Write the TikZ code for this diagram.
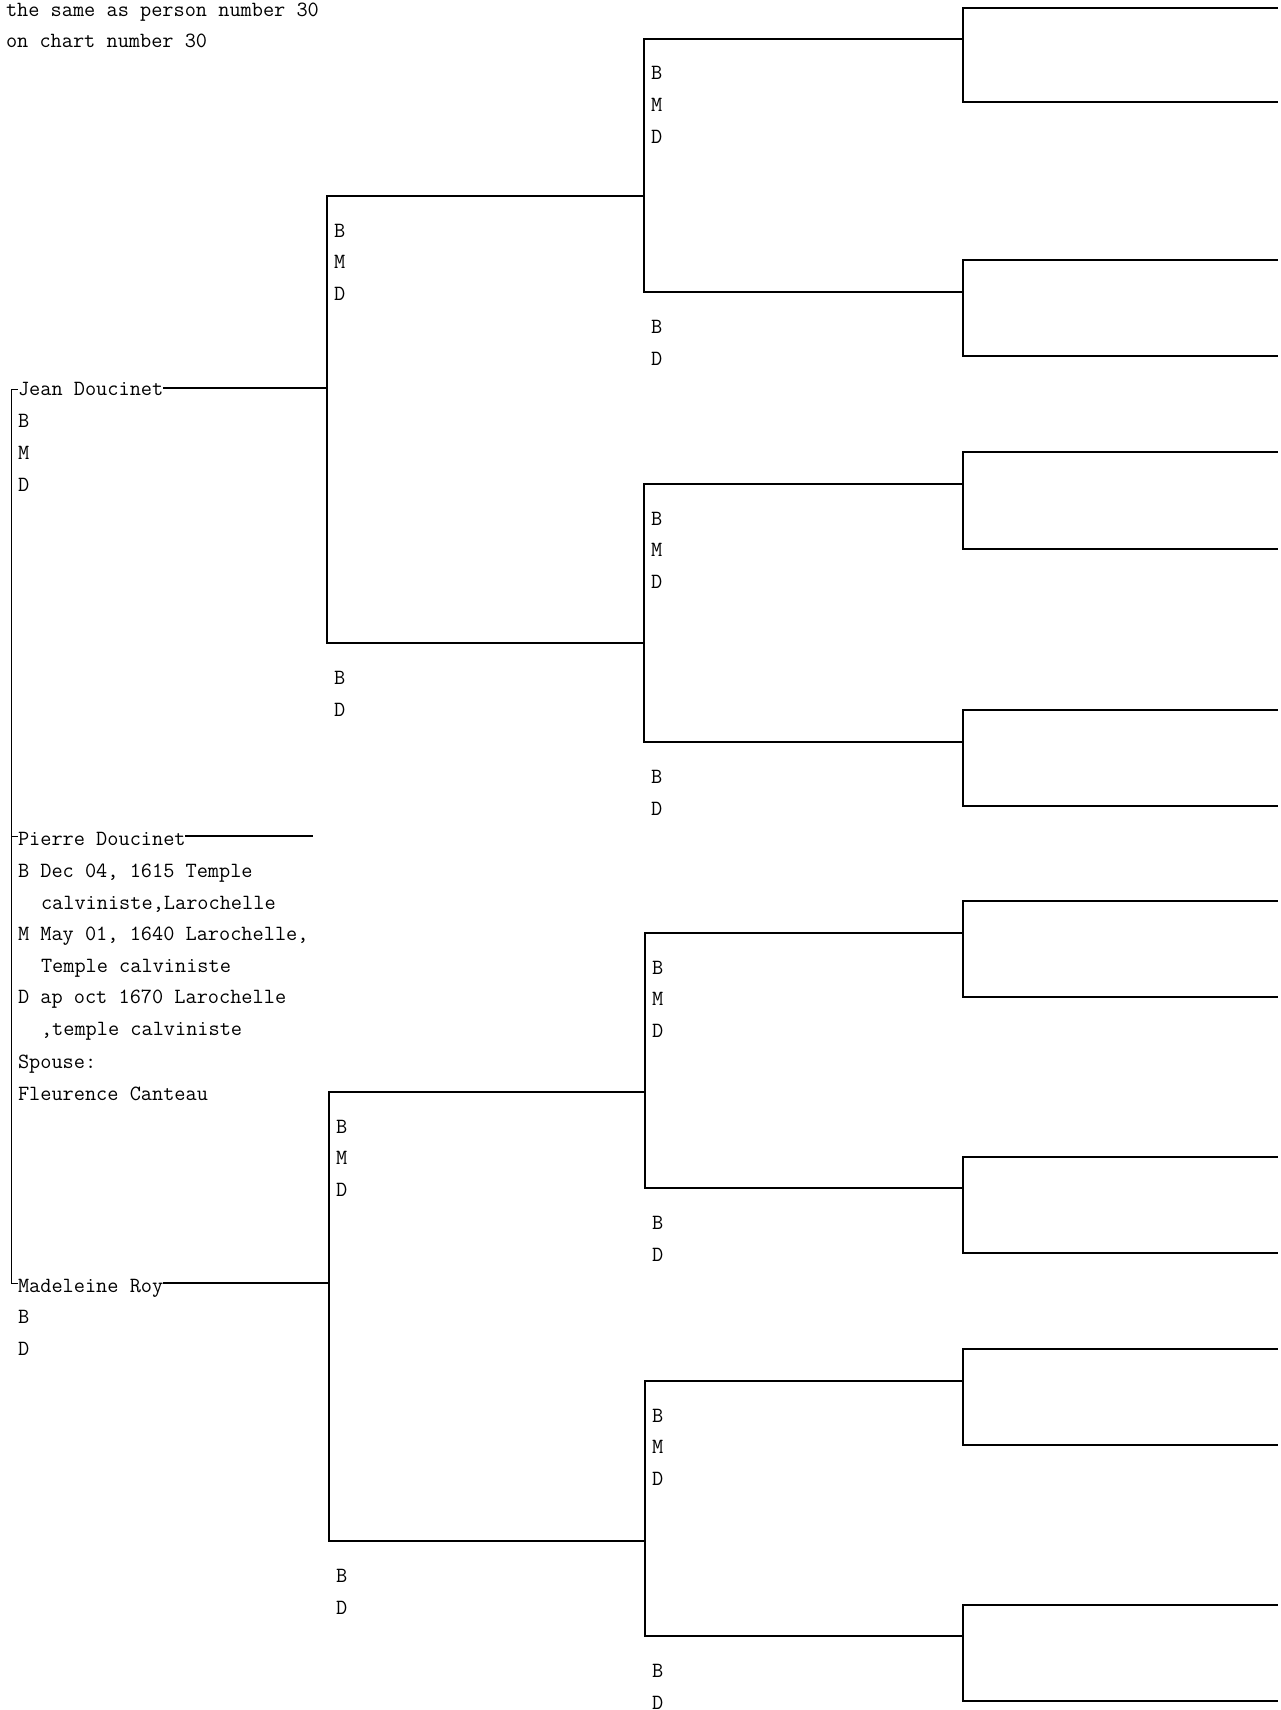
\documentclass[tikz,border=0pt]{standalone}
\begin{document}
\begin{tikzpicture}[x=1pt,y=-1pt,
  lbl/.style={anchor=base west, inner sep=0pt, outer sep=0pt, font=\fontsize{21.7}{26}\selectfont\ttfamily},
  ln/.style={line width=1.5pt, line cap=rect, line join=miter},
  thinln/.style={line width=1pt}]
\useasboundingbox (0,0) rectangle (1280,1710);
\fill[white] (0,0) rectangle (1280,1710);

% header text
\node[lbl] (h1) at (6,17) {the same as person number 30};
\node[lbl] (h2) at (6,48) {on chart number 30};

% generation 1 (the family)
\node[lbl] (jean) at (18,395) {Jean Doucinet};
\node[lbl] (jeanB) at (18,427) {B};
\node[lbl] (jeanM) at (18,459) {M};
\node[lbl] (jeanD) at (18,491) {D};

\node[lbl] (pierre) at (18,845) {Pierre Doucinet};
\node[lbl] (p1) at (18,877) {B Dec 04, 1615 Temple};
\node[lbl] (p2) at (41,909) {calviniste,Larochelle};
\node[lbl] (p3) at (18,940) {M May 01, 1640 Larochelle,};
\node[lbl] (p4) at (41,972) {Temple calviniste};
\node[lbl] (p5) at (18,1003) {D ap oct 1670 Larochelle};
\node[lbl] (p6) at (41,1035) {,temple calviniste};
\node[lbl] (p7) at (18,1068) {Spouse:};
\node[lbl] (p8) at (18,1100) {Fleurence Canteau};

\node[lbl] (madel) at (18,1292) {Madeleine Roy};
\node[lbl] (madelB) at (18,1323) {B};
\node[lbl] (madelD) at (18,1355) {D};

\coordinate (L1) at (11,389);
\coordinate (L2) at (11,836);
\coordinate (L3) at (11,1283);
\draw[thinln] (L1) -- (L3);
\draw[thinln] (L1) -- (jean.west |- L1);
\draw[thinln] (L2) -- (pierre.west |- L2);
\draw[thinln] (L3) -- (madel.west |- L3);

\coordinate (pEnd) at (312,836);
\draw[ln] (pierre.east |- pEnd) -- (pEnd);

% generation 2
\coordinate (g2uJ) at (327,388);
\coordinate (g2uT) at (327,196);
\coordinate (g2uB) at (327,643);
\coordinate (g2lJ) at (329,1283);
\coordinate (g2lT) at (329,1092);
\coordinate (g2lB) at (329,1541);
\draw[ln] (jean.east |- g2uJ) -- (g2uJ);
\draw[ln] (madel.east |- g2lJ) -- (g2lJ);

\foreach \n/\x/\t/\b in {u/327/196/643, l/329/1092/1541} {
  \node[lbl] (g2\n B1) at (\x+7,\t+41) {B};
  \node[lbl] (g2\n M1) at (\x+7,\t+72) {M};
  \node[lbl] (g2\n D1) at (\x+7,\t+104) {D};
  \node[lbl] (g2\n B2) at (\x+7,\b+41) {B};
  \node[lbl] (g2\n D2) at (\x+7,\b+73) {D};
}

% generation 3
\coordinate (g3aJ) at (644,196);
\coordinate (g3bJ) at (644,643);
\coordinate (g3cJ) at (645,1092);
\coordinate (g3dJ) at (645,1541);
\draw[ln] (g3aJ) -- (g2uT) -- (g2uB) -- (g3bJ);
\draw[ln] (g3cJ) -- (g2lT) -- (g2lB) -- (g3dJ);

\foreach \n/\x/\t/\b in {a/644/39/292, b/644/484/742, c/645/933/1188, d/645/1381/1636} {
  \coordinate (g3\n T) at (\x,\t);
  \coordinate (g3\n B) at (\x,\b);
  \coordinate (g4\n 1J) at (963,\t);
  \coordinate (g4\n 2J) at (963,\b);
  \draw[ln] (g4\n 1J) -- (g3\n T) -- (g3\n B) -- (g4\n 2J);
  \node[lbl] (g3\n B1) at (\x+7,\t+41) {B};
  \node[lbl] (g3\n M1) at (\x+7,\t+72) {M};
  \node[lbl] (g3\n D1) at (\x+7,\t+104) {D};
  \node[lbl] (g3\n B2) at (\x+7,\b+41) {B};
  \node[lbl] (g3\n D2) at (\x+7,\b+73) {D};
}

% generation 4
\foreach \n/\t/\b in {a1/8/102, a2/260/356, b1/452/549, b2/710/806,
                      c1/901/997, c2/1157/1253, d1/1349/1445, d2/1605/1701} {
  \coordinate (g4\n T) at (963,\t);
  \coordinate (g4\n B) at (963,\b);
  \coordinate (g4\n TR) at (1277,\t);
  \coordinate (g4\n BR) at (1277,\b);
  \draw[ln] (g4\n TR) -- (g4\n T) -- (g4\n B) -- (g4\n BR);
}
\end{tikzpicture}
\end{document}
